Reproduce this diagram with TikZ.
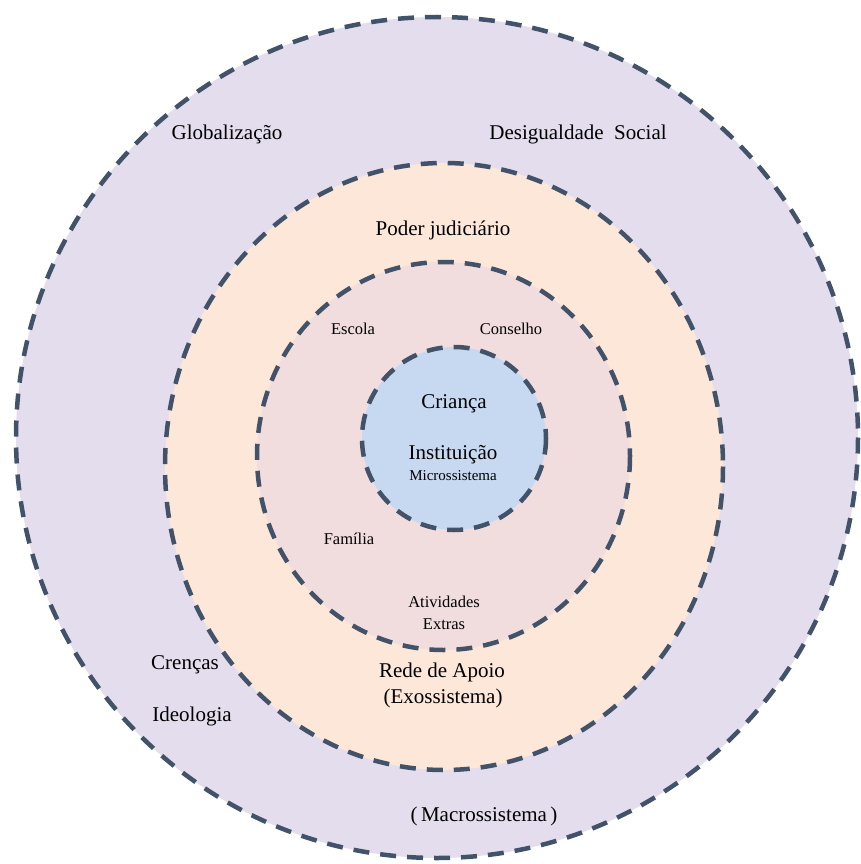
\documentclass[tikz,border=0pt]{standalone}
\usepackage{fontspec}
\setmainfont{Liberation Serif}
\definecolor{macrofill}{RGB}{228,221,237}
\definecolor{exofill}{RGB}{252,231,216}
\definecolor{mesofill}{RGB}{242,221,222}
\definecolor{microfill}{RGB}{198,217,240}
\definecolor{ringline}{RGB}{66,82,104}
\begin{document}
\begin{tikzpicture}[x=1pt,y=-1pt,
  ring/.style={draw=ringline,line width=4.5pt,dash pattern=on 16pt off 11pt},
  biglbl/.style={font=\fontsize{21}{25}\selectfont,inner sep=0pt},
  smalllbl/.style={font=\fontsize{16.5}{20}\selectfont,inner sep=0pt}]
  \useasboundingbox (0,0) rectangle (860,864);
  \fill[white] (0,0) rectangle (860,864);
  % rings, outside in
  \draw[ring,fill=macrofill] (437,437.5) ellipse [x radius=421,y radius=420.5];
  \draw[ring,fill=exofill] (444,466.5) ellipse [x radius=279,y radius=303.5];
  \draw[ring,fill=mesofill] (443.5,456) ellipse [x radius=186.5,y radius=194];
  \draw[ring,fill=microfill] (454,438.5) ellipse [x radius=92,y radius=91.5];
  % macrossistema
  \node[biglbl] (glob) at (227,134) {Globalização};
  \node[biglbl] (desig) at (578,134) {Desigualdade\ \ Social};
  \node[biglbl] (crencas) at (185,665) {Crenças};
  \node[biglbl] (ideol) at (192,716) {Ideologia};
  \node[biglbl] (macro) at (484,816) {(\,Macrossistema\,)};
  % exossistema
  \node[biglbl] (poder) at (443,230) {Poder judiciário};
  \node[biglbl] (rede) at (442,672) {Rede de Apoio};
  \node[biglbl] (exo) at (443,698) {(Exossistema)};
  % mesossistema
  \node[smalllbl] (escola) at (353,329) {Escola};
  \node[smalllbl] (conselho) at (511,329) {Conselho};
  \node[smalllbl] (familia) at (349,539) {Família};
  \node[smalllbl] (ativ) at (444,602) {Atividades};
  \node[smalllbl] (extras) at (444,624) {Extras};
  % microssistema
  \node[biglbl] (crianca) at (454,404) {Criança};
  \node[biglbl] (inst) at (453,455) {Instituição};
  \node[font=\fontsize{15}{18}\selectfont,inner sep=0pt] (micro) at (453,476) {Microssistema};
\end{tikzpicture}
\end{document}
